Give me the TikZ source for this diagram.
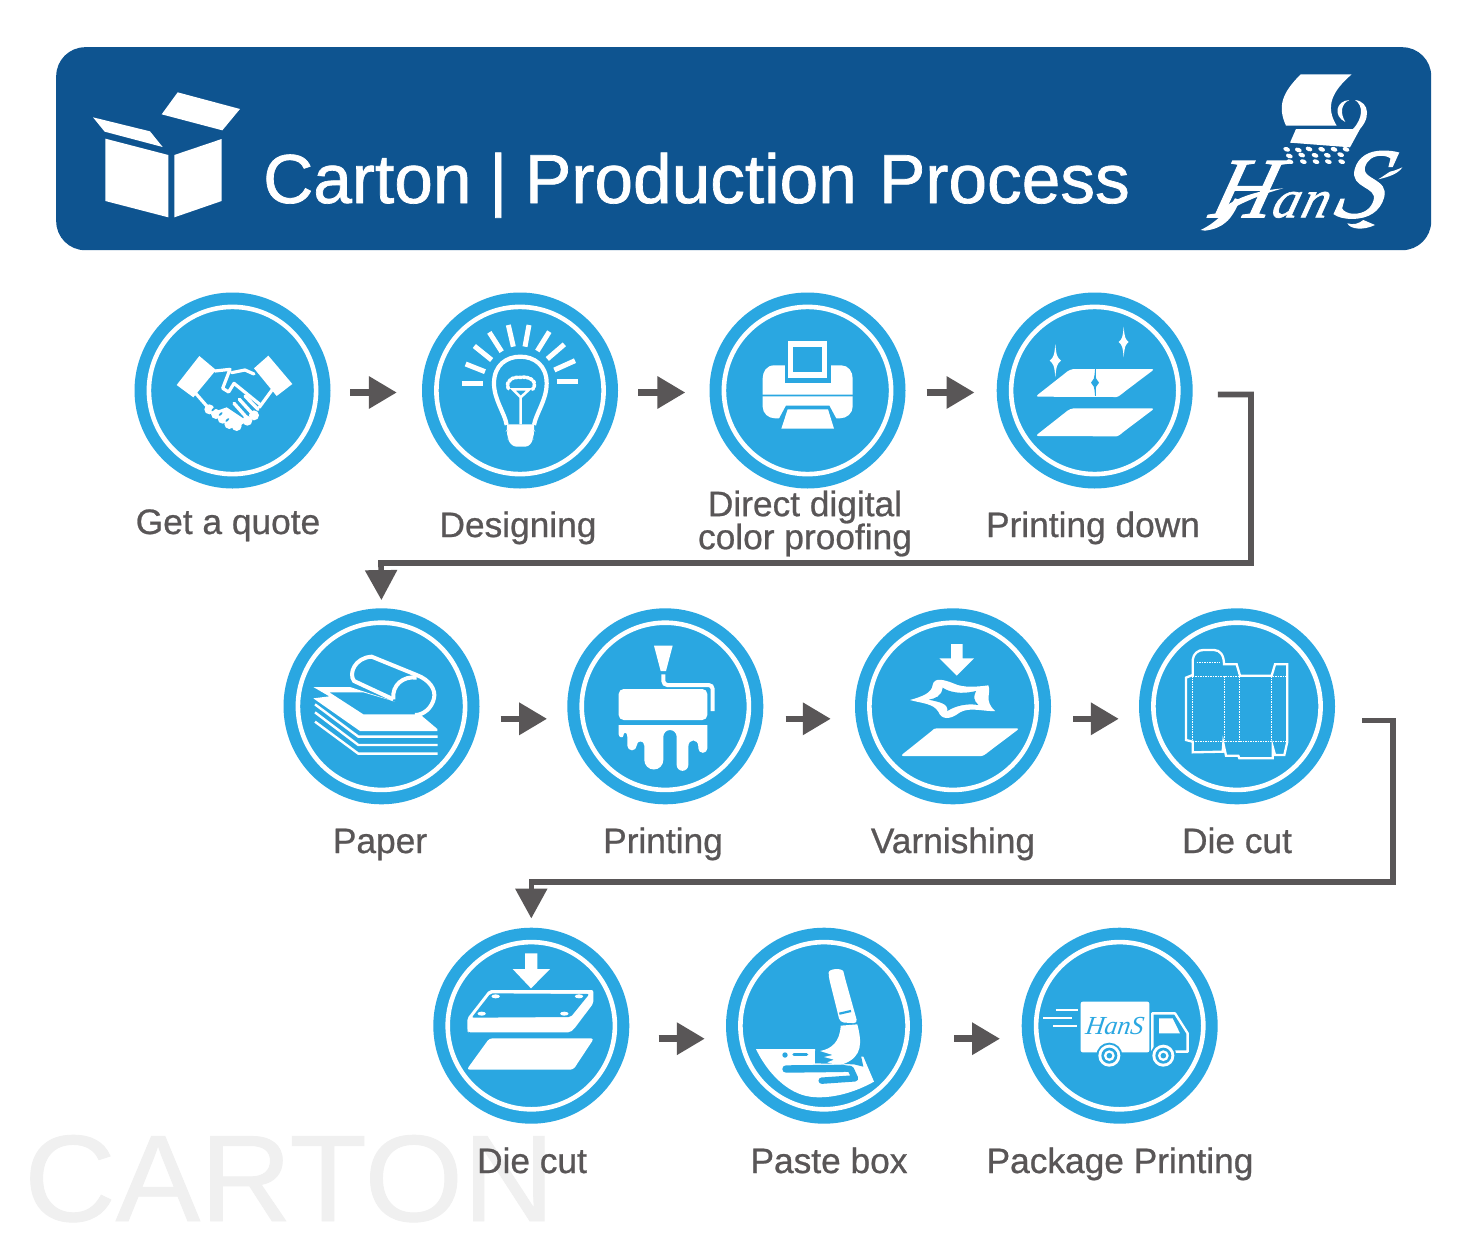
\documentclass[tikz,border=0pt]{standalone}
\usepackage{fontspec}
\setmainfont{Liberation Sans}
\newfontfamily\logofont{Liberation Serif}
\newfontfamily\hansfont[RawFeature={embolden=1.2}]{Liberation Serif Italic}
\newfontfamily\labelfont[RawFeature={embolden=0.7}]{Liberation Sans}
\newfontfamily\titlefont[RawFeature={embolden=1.0}]{Liberation Sans}
\usetikzlibrary{arrows.meta}
\definecolor{sky}{HTML}{2AA7E1}
\definecolor{navy}{HTML}{0E5490}
\definecolor{ink}{HTML}{595657}
\definecolor{mark}{HTML}{F0F0F0}
\tikzset{
  stepcircle/.style={circle,fill=sky,minimum size=196pt,inner sep=0pt,
    path picture={\draw[white,line width=4.6pt] (path picture bounding box.center) circle (83.6pt);}},
  steplabel/.style={text=ink,font=\labelfont\fontsize{35.3}{34}\selectfont,align=center,inner sep=0pt,anchor=base},
  flow/.style={ink,line width=6.5pt,-{Triangle[length=28pt,width=31pt]}},
  turn/.style={ink,line width=5.6pt,-{Triangle[length=30pt,width=31pt]}},
  icon/.style={x=.33333pt,y=-.33333pt},
  wl/.style={white,line width=#1,line cap=butt,line join=miter},
  wr/.style={white,line width=#1,line cap=round,line join=round},
  bl/.style={sky,line width=#1,line cap=round,line join=round},
}
\newcommand{\sparkle}[5]{\fill[#5] (#1,#2-#4) .. controls (#1+.18*#3,#2-.3*#4) and (#1+.3*#3,#2-.2*#4) .. (#1+#3,#2) .. controls (#1+.3*#3,#2+.2*#4) and (#1+.18*#3,#2+.3*#4) .. (#1,#2+#4) .. controls (#1-.18*#3,#2+.3*#4) and (#1-.3*#3,#2+.2*#4) .. (#1-#3,#2) .. controls (#1-.3*#3,#2-.2*#4) and (#1-.18*#3,#2-.3*#4) .. (#1,#2-#4) -- cycle;}
\newcommand{\plate}[1]{\fill[white,rounded corners=3pt] (1006,#1+2) -- (1095,#1-68) .. controls (1105,#1-76) and (1115,#1-81) .. (1130,#1-81) -- (1364,#1-81) -- (1275,#1-14) .. controls (1265,#1-6) and (1255,#1+3) .. (1240,#1+3) -- cycle;}
\begin{document}
\begin{tikzpicture}[x=1pt,y=-1pt]
\useasboundingbox (0,0) rectangle (1472,1242);
\fill[white] (0,0) rectangle (1472,1242);

% watermark
\node[anchor=base west,inner sep=0pt,text=mark,font=\labelfont\fontsize{123}{123}\selectfont,xscale=1.03,transform shape] (wm) at (24,1221) {CARTON};

% header
\node[fill=navy,rounded corners=29pt,minimum width=1375pt,minimum height=203pt,inner sep=0pt,anchor=north west] (hdr) at (56,47) {};
\node[anchor=base west,inner sep=0pt,text=white,font=\titlefont\fontsize{69.4}{70}\selectfont] (title) at (263,203) {Carton\kern-1.5pt{} |\kern-1.5pt{} Production\kern3pt{} Process};

% box icon
\begin{scope}[shift={(60,50)},icon]
\fill[white] (353,127) -- (540,177) -- (487,241) -- (305,193) -- cycle;
\fill[white] (99,202) -- (270,244) -- (308,291) -- (134,245) -- cycle;
\fill[white] (136,266) -- (325,315) -- (325,502) -- (136,453) -- cycle;
\fill[white] (343,315) -- (485,267) -- (485,453) -- (343,502) -- cycle;
\end{scope}

% logo
\begin{scope}[shift={(1190,60)},icon]
\fill[white] (332,43) -- (485,43) .. controls (425,95) and (405,140) .. (440,197) -- (288,197) .. controls (262,140) and (275,100) .. (332,43) -- cycle;
\fill[white] (478,120) .. controls (438,122) and (428,168) .. (466,186) .. controls (450,160) and (452,132) .. (478,120) -- cycle;
\fill[white] (495,120) .. controls (540,125) and (545,180) .. (498,218) -- (488,208) .. controls (520,175) and (520,135) .. (495,120) -- cycle;
\fill[white] (318,207) -- (510,207) -- (480,262) -- (300,248) -- cycle;
\foreach \px/\py in {290/268,325/270,357/267,395/268,432/268,468/268,298/288,335/285,375/286,412/286,452/284,300/305,340/305,378/305,415/305,455/305}
  \fill[white,rotate around={-20:(\px,\py)}] (\px,\py) ellipse (3.5pt and 2.2pt);
\node[anchor=base,inner sep=0pt,text=white,font=\hansfont\fontsize{86}{86}\selectfont,xslant=.28,transform shape] (logotext) at (315,472) {H\fontsize{54}{54}\selectfont a\kern2pt n\kern6pt\fontsize{100}{100}\selectfont S};
\fill[white] (32,510) .. controls (85,485) and (120,440) .. (135,415) -- (150,420) .. controls (125,480) and (100,505) .. (45,512) -- cycle;
\fill[white] (82,458) .. controls (140,405) and (220,390) .. (280,385) .. controls (220,400) and (150,430) .. (100,460) -- cycle;
\fill[white] (600,335) .. controls (615,332) and (630,325) .. (637,322) .. controls (625,340) and (600,350) .. (565,358) -- cycle;
\fill[white] (520,480) .. controls (505,492) and (490,495) .. (472,490) .. controls (480,508) and (520,512) .. (555,495) -- cycle;
\end{scope}

% circles
\node[stepcircle] (n1) at (232.5,390.5) {};
\node[stepcircle] (n2) at (520,390.5) {};
\node[stepcircle] (n3) at (807.5,390.5) {};
\node[stepcircle] (n4) at (1094.7,390.5) {};
\node[stepcircle] (n5) at (381.5,706.3) {};
\node[stepcircle] (n6) at (665.3,706.3) {};
\node[stepcircle] (n7) at (953,706.3) {};
\node[stepcircle] (n8) at (1237,706.3) {};
\node[stepcircle] (n9) at (531.3,1025.7) {};
\node[stepcircle] (n10) at (824,1025.7) {};
\node[stepcircle] (n11) at (1119.7,1025.7) {};

% labels
\node[steplabel] (l1) at (228,534) {Get a quote};
\node[steplabel] (l2) at (518,537) {Designing};
\node[steplabel,anchor=center] (l3) at (805,523.5) {Direct digital\\[-1pt]color proofing};
\node[steplabel] (l4) at (1093,537) {Printing down};
\node[steplabel] (l5) at (380,853) {Paper};
\node[steplabel] (l6) at (663,853) {Printing};
\node[steplabel] (l7) at (953,853) {Varnishing};
\node[steplabel] (l8) at (1237,853) {Die cut};
\node[steplabel] (l9) at (532,1173) {Die cut};
\node[steplabel] (l10) at (829,1173) {Paste box};
\node[steplabel] (l11) at (1120,1173) {Package Printing};

% connectors
\draw[flow,shorten <=19.5pt,shorten >=25pt] ([yshift=-2pt]n1.east) -- ([yshift=-2pt]n2.west);
\draw[flow,shorten <=20pt,shorten >=24pt] ([yshift=-2pt]n2.east) -- ([yshift=-2pt]n3.west);
\draw[flow,shorten <=21pt,shorten >=22pt] ([yshift=-2pt]n3.east) -- ([yshift=-2pt]n4.west);
\draw[flow,shorten <=21pt,shorten >=20pt] ([yshift=-12.5pt]n5.east) -- ([yshift=-12.5pt]n6.west);
\draw[flow,shorten <=22pt,shorten >=24pt] ([yshift=-12.5pt]n6.east) -- ([yshift=-12.5pt]n7.west);
\draw[flow,shorten <=22pt,shorten >=20pt] ([yshift=-12.5pt]n7.east) -- ([yshift=-12.5pt]n8.west);
\draw[flow,shorten <=29pt,shorten >=21pt] ([yshift=-13pt]n9.east) -- ([yshift=-13pt]n10.west);
\draw[flow,shorten <=32pt,shorten >=21.5pt] ([yshift=-13pt]n10.east) -- ([yshift=-13pt]n11.west);
\coordinate (a1) at (1251,394.5);
\coordinate (a2) at (1251,563);
\coordinate (a3) at (381,563);
\draw[turn,shorten <=25pt,shorten >=8pt] (n4.east |- a1) -- (a1) -- (a2) -- (a3) -- (n5.north);
\coordinate (b1) at (1393,720.5);
\coordinate (b2) at (1393,882);
\coordinate (b3) at (531.3,882);
\draw[turn,shorten <=27pt,shorten >=9pt] (n8.east |- b1) -- (b1) -- (b2) -- (b3) -- (n9.north);

% handshake
\begin{scope}[shift={(130,290)},icon]
\fill[white] (208,198) -- (258,240) -- (190,322) -- (140,285) -- cycle;
\fill[white] (415,197) -- (487,282) -- (440,318) -- (372,235) -- cycle;
\draw[wr=3.2pt] (255,243) -- (300,238) -- (278,295) -- (296,306) -- (312,280) -- (392,345);
\draw[wr=3.2pt] (305,248) -- (345,240) -- (372,252);
\draw[wr=3.2pt] (432,292) -- (388,352);
\draw[wr=3.2pt] (197,310) -- (232,350);
\foreach \cx/\cy in {238/358,258/372,278/386,298/402,320/408,352/392,372/376}
  \fill[white] (\cx,\cy) circle (5pt);
\fill[white] (325,412) -- (296,395) -- (262,362) -- (290,352) -- (350,392) -- cycle;
\foreach \cx/\cy in {250/358,272/372,292/390}
  \fill[sky,rotate around={45:(\cx,\cy)}] (\cx,\cy) ellipse (2.4pt and 1pt);
\draw[wr=3.4pt] (312,340) -- (352,385);
\draw[wr=3.4pt] (328,328) -- (368,372);
\draw[wr=3.4pt] (345,318) -- (384,358);
\end{scope}

% bulb
\begin{scope}[shift={(130,290)},icon]
\foreach \xa/\ya/\xb/\yb in {995/281/1060/281,1007/222/1065/245,1033/168/1085/210,1078/127/1115/185,1135/105/1150/170,1197/105/1185/170,1258/125/1222/183,1303/163/1252/207,1335/212/1273/240,1280/274/1345/274}
  \draw[wl=5pt] (\xa,\ya) -- (\xb,\yb);
\draw[wl=4.2pt] (1130,405) .. controls (1125,370) and (1092,330) .. (1092,280) .. controls (1092,225) and (1130,200) .. (1171,200) .. controls (1212,200) and (1250,225) .. (1250,280) .. controls (1250,330) and (1218,370) .. (1212,405);
\fill[white,rounded corners=3pt] (1128,403) -- (1215,403) -- (1210,420) -- (1215,425) -- (1208,440) -- (1210,450) -- (1195,470) -- (1150,470) -- (1133,450) -- (1135,440) -- (1128,425) -- (1133,420) -- cycle;
\draw[wl=2.5pt] (1172,403) -- (1172,322) -- (1148,298) -- (1198,298) -- (1172,322);
\draw[white,line width=3.6pt,line cap=round,dash pattern=on 2.4pt off 1.4pt] (1135,296) .. controls (1125,270) and (1150,260) .. (1172,262) .. controls (1200,258) and (1225,275) .. (1208,298);
\end{scope}

% printer
\begin{scope}[shift={(700,290)},icon]
\fill[white] (222,226) -- (424,226) .. controls (445,226) and (458,245) .. (458,265) -- (458,314) -- (188,314) -- (188,265) .. controls (188,245) and (200,226) .. (222,226) -- cycle;
\fill[white] (188,319) -- (458,319) -- (458,350) .. controls (458,370) and (440,385) .. (420,385) -- (225,385) .. controls (205,385) and (188,370) .. (188,350) -- cycle;
\fill[sky] (254,226) rectangle (392,278);
\fill[white] (264,153) rectangle (382,265);
\fill[sky] (280,171) rectangle (366,247);
\fill[sky] (258,347) -- (388,347) -- (410,388) -- (236,388) -- cycle;
\fill[white] (263,358) -- (384,358) -- (402,416) -- (244,416) -- cycle;
\end{scope}

% printing down
\begin{scope}[shift={(700,290)},icon]
\plate{318}
\plate{436}
\draw[sky,line width=.8pt] (1186,238) -- (1186,318);
\sparkle{1066}{212}{17}{50}{white}
\sparkle{1271}{156}{15}{46}{white}
\sparkle{1185}{278}{12}{38}{sky}
\end{scope}

% paper
\begin{scope}[shift={(280,605)},icon]
\fill[white] (100,246) -- (210,246) -- (330,285) -- (345,290) -- (250,262) -- (148,262) -- (250,328) -- (420,328) -- (472,372) -- (472,378) -- (240,378) -- (100,280) -- (148,274) -- cycle;
\draw[wl=4pt] (340,283) -- (222,228) .. controls (205,205) and (225,158) .. (275,155) -- (410,210) .. controls (450,225) and (468,255) .. (462,280) .. controls (455,310) and (430,330) .. (405,330);
\draw[wl=4pt] (340,283) .. controls (335,240) and (370,212) .. (410,218);
\draw[wl=2.4pt] (105,298) -- (235,395) -- (473,395);
\draw[wl=2.4pt] (105,322) -- (235,420) -- (473,420);
\draw[wl=2.4pt] (105,350) -- (235,446) -- (473,446);
\end{scope}

% roller
\begin{scope}[shift={(280,605)},icon]
\fill[white] (1122,122) -- (1178,122) -- (1158,198) -- (1142,198) -- cycle;
\draw[wl=4pt,rounded corners=4pt] (1150,208) -- (1150,240) -- (1298,240) -- (1298,318);
\fill[white,rounded corners=5pt] (1016,252) rectangle (1282,345);
\fill[white] (1016,360) -- (1282,360) -- (1282,430) arc (0:-180:13.5*.33333pt) -- (1255,425) .. controls (1255,400) and (1225,400) .. (1225,425) -- (1225,480) arc (0:-180:17.5*.33333pt) -- (1190,395) arc (0:180:20*.33333pt) -- (1150,465) arc (0:-180:28.5*.33333pt) -- (1093,422) .. controls (1093,405) and (1070,405) .. (1070,422) arc (0:-180:14*.33333pt) -- (1042,395) .. controls (1042,380) and (1030,380) .. (1030,392) .. controls (1030,400) and (1016,398) .. (1016,388) -- cycle;
\end{scope}

% varnish
\begin{scope}[shift={(850,605)},icon]
\fill[white] (303,117) -- (338,117) -- (338,160) -- (372,160) -- (320,212) -- (268,160) -- (303,160) -- cycle;
\fill[white] (180,285) .. controls (215,275) and (245,265) .. (248,240) .. controls (252,215) and (285,225) .. (310,235) .. controls (340,250) and (385,245) .. (415,241) .. controls (425,265) and (400,285) .. (435,318) .. controls (400,320) and (360,305) .. (330,322) .. controls (300,345) and (275,345) .. (265,320) .. controls (250,295) and (215,295) .. (180,285) -- cycle;
\fill[sky] (237,284) .. controls (255,280) and (275,275) .. (278,248) .. controls (295,260) and (330,270) .. (378,258) .. controls (370,275) and (370,285) .. (385,300) .. controls (355,295) and (320,300) .. (292,318) .. controls (295,295) and (270,292) .. (237,284) -- cycle;
\fill[white,rounded corners=3pt] (151,453) -- (245,378) .. controls (252,372) and (258,370) .. (270,370) -- (509,370) -- (420,437) .. controls (410,445) and (400,453) .. (385,453) -- cycle;
\end{scope}

% die line
\begin{scope}[shift={(850,605)},icon]
\draw[wl=2.3pt] (1028,210) -- (1028,165) .. controls (1030,145) and (1045,135) .. (1060,135) -- (1092,135) .. controls (1110,135) and (1122,150) .. (1122,178) -- (1160,178) -- (1170,212) -- (1265,212) -- (1275,178) -- (1312,178) -- (1312,410) -- (1303,450) -- (1275,450) -- (1268,425) -- (1268,460) -- (1168,460) -- (1165,452) -- (1128,452) -- (1120,415) -- (1118,440) -- (1028,442) -- (1028,410) -- (1008,405) -- (1008,218) -- cycle;
\foreach \dx in {1028,1122,1168,1265}
  \draw[white,line width=.6pt,dash pattern=on 1.5pt off 1pt] (\dx,213) -- (\dx,410);
\draw[white,line width=.6pt,dash pattern=on 1.5pt off 1pt] (1028,213) -- (1312,213);
\draw[white,line width=.6pt,dash pattern=on 1.5pt off 1pt] (1028,410) -- (1312,410);
\draw[white,line width=.6pt,dash pattern=on 1.5pt off 1pt] (1040,172) -- (1110,172);
\end{scope}

% press
\begin{scope}[shift={(430,925)},icon]
\fill[white] (285,85) -- (322,85) -- (322,132) -- (360,132) -- (303,190) -- (248,132) -- (285,132) -- cycle;
\fill[white,rounded corners=2pt] (178,195) -- (490,195) -- (490,235) -- (432,312) -- (420,322) -- (115,322) -- (112,318) -- (112,280) -- cycle;
\fill[sky,rounded corners=2pt] (182,205) -- (478,207) -- (422,276) -- (125,278) -- cycle;
\foreach \hx/\hy in {197/214,447/214,155/266,403/266}
  \fill[white] (\hx,\hy) ellipse (4.2pt and 2pt);
\fill[white,rounded corners=3pt] (178,340) -- (492,340) -- (430,434) -- (110,434) -- cycle;
\end{scope}

% brush
\begin{scope}[shift={(430,925)},icon]
\fill[white] (978,372) -- (1155,372) -- (1155,395) -- (1300,395) -- (1332,470) .. controls (1260,510) and (1190,522) .. (1140,515) .. controls (1070,505) and (1010,440) .. (978,372) -- cycle;
\fill[sky] (1155,378) -- (1290,378) -- (1300,425) -- (1272,418) -- (1155,415) -- cycle;
\fill[sky] (1065,390) circle (2.7pt);
\draw[bl=3.2pt] (1092,389) -- (1130,389);
\draw[bl=7.4pt] (1068,432) -- (1240,430);
\draw[bl=6.4pt] (1175,467) -- (1275,460) -- (1262,432) -- (1240,430);
\fill[white,rounded corners=4pt] (1196,155) .. controls (1196,130) and (1238,128) .. (1243,152) -- (1283,295) -- (1230,292) -- cycle;
\draw[sky,line width=2.2pt] (1228,266) -- (1263,258);
\fill[white] (1232,302) -- (1282,298) .. controls (1295,350) and (1300,395) .. (1240,417) .. controls (1225,420) and (1205,418) .. (1192,412) -- (1212,404) -- (1182,396) -- (1208,390) -- (1170,378) .. controls (1205,372) and (1230,350) .. (1232,302) -- cycle;
\end{scope}

% truck
\begin{scope}[shift={(1020,925)},icon]
\draw[wl=2.3pt] (107,256) -- (175,256);
\draw[wl=2.3pt] (70,280) -- (155,280);
\draw[wl=2.3pt] (100,303) -- (170,303);
\fill[white,rounded corners=2pt] (182,230) rectangle (388,382);
\node[inner sep=0pt,text=sky,font=\logofont\itshape\fontsize{26}{26}\selectfont,xslant=.15,transform shape] (trucktext) at (285,303) {HanS};
\draw[wl=2.4pt,line join=round] (397,265) -- (465,265) -- (503,325) -- (503,380) -- (397,380) -- cycle;
\fill[white] (417,280) -- (458,280) -- (480,325) -- (417,325) -- cycle;
\foreach \wx in {268,430} {
  \fill[sky] (\wx,392) circle (13pt);
  \fill[white] (\wx,392) circle (11pt);
  \fill[sky] (\wx,392) circle (8pt);
  \fill[white] (\wx,392) circle (5.4pt);
  \fill[sky] (\wx,392) circle (2.8pt);
}
\end{scope}
\end{tikzpicture}
\end{document}
